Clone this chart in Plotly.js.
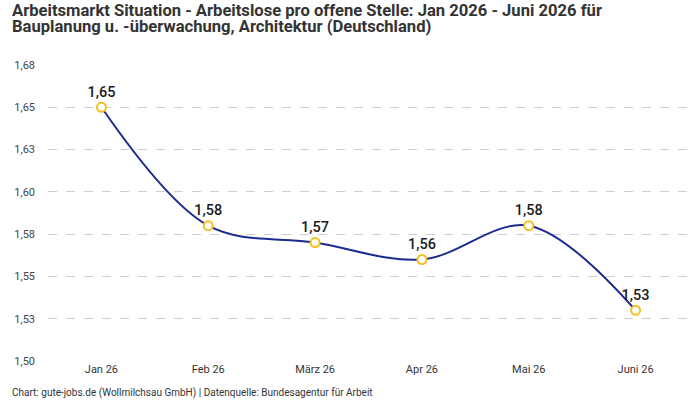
<!DOCTYPE html>
<html>
<head>
<meta charset="utf-8">
<script src="https://cdn.plot.ly/plotly-3.0.1.min.js"></script>
<style>
  html, body { margin: 0; padding: 0; background: #fff; }
  #chart { width: 700px; height: 400px; }
</style>
</head>
<body>
<div id="chart"></div>
<script>
// Monthly ratio of unemployed persons per open position
const months = ["Jan 26", "Feb 26", "März 26", "Apr 26", "Mai 26", "Juni 26"];
const ratios = [1.65, 1.58, 1.57, 1.56, 1.58, 1.53];

// Y axis ticks and their labels (German decimal comma)
const yTickValues = [1.5, 1.525, 1.55, 1.575, 1.6, 1.625, 1.65, 1.675];
const yTickLabels = ["1,50", "1,53", "1,55", "1,58", "1,60", "1,63", "1,65", "1,68"];

const titleLines = [
  "Arbeitsmarkt Situation - Arbeitslose pro offene Stelle: Jan 2026 - Juni 2026 für",
  "Bauplanung u. -überwachung, Architektur (Deutschland)"
];
const sourceText = "Chart: gute-jobs.de (Wollmilchsau GmbH) | Datenquelle: Bundesagentur für Arbeit";

const fontFamily = "Roboto, 'Noto Sans', sans-serif";

const trace = {
  x: months,
  y: ratios,
  type: "scatter",
  mode: "lines+markers+text",
  line: { color: "#1c2b8f", width: 2, shape: "spline", smoothing: 1 },
  marker: {
    symbol: "circle",
    size: 9,
    color: "#ffffff",
    line: { color: "#f7be1e", width: 2 }
  },
  text: ratios.map(v => v.toFixed(2).replace(".", ",")),
  textposition: "top center",
  textfont: { family: fontFamily, size: 14.5, color: "#1a1a1a", weight: 500 },
  hoverinfo: "skip",
  cliponaxis: false
};

// Heading lines are placed one by one to keep their spacing tight
const titleCenters = [1.1858, 1.1284];
const titleAnnotations = titleLines.map((line, i) => ({
  text: line,
  xref: "paper",
  yref: "paper",
  x: -0.0593,
  y: titleCenters[i],
  xanchor: "left",
  yanchor: "middle",
  align: "left",
  showarrow: false,
  font: { family: fontFamily, size: 16.6, color: "#333", weight: "bold" }
}));

const layout = {
  width: 700,
  height: 400,
  paper_bgcolor: "#ffffff",
  plot_bgcolor: "#ffffff",
  margin: { l: 48, r: 11, t: 65, b: 39 },
  showlegend: false,
  font: { family: fontFamily, color: "#333" },
  xaxis: {
    type: "category",
    range: [-0.5, 5.5],
    showgrid: false,
    zeroline: false,
    showline: false,
    ticks: "",
    tickfont: { family: fontFamily, size: 11, color: "#333" },
    fixedrange: true
  },
  yaxis: {
    range: [1.5, 1.675],
    tickmode: "array",
    tickvals: yTickValues,
    ticktext: yTickLabels,
    showgrid: true,
    gridcolor: "#cfcfcf",
    griddash: "dash",
    gridwidth: 1,
    zeroline: false,
    showline: false,
    ticks: "",
    ticklabelstandoff: 12,
    tickfont: { family: fontFamily, size: 11, color: "#444" },
    fixedrange: true
  },
  annotations: titleAnnotations.concat([
    {
      // source line under the axis
      text: sourceText,
      xref: "paper",
      yref: "paper",
      x: -0.0593,
      y: -0.108,
      xanchor: "left",
      yanchor: "middle",
      showarrow: false,
      font: { family: fontFamily, size: 10, color: "#333" }
    }
  ])
};

Plotly.newPlot("chart", [trace], layout, { displayModeBar: false, staticPlot: true });
</script>
</body>
</html>
